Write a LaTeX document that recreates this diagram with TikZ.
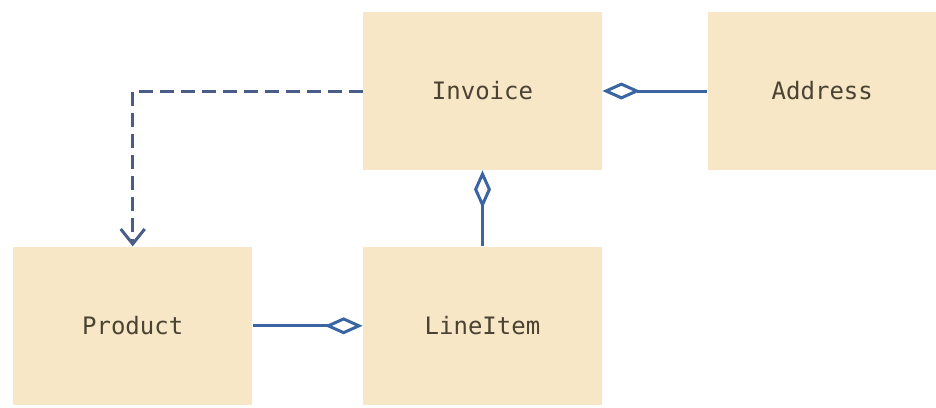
\documentclass[tikz,border=0pt]{standalone}
\usepackage{fontspec}
\setmonofont{DejaVu Sans Mono}
\usepackage{xcolor}
\definecolor{boxBack}  {HTML}{F8E7C6}
\definecolor{lineBlue} {HTML}{3A64A2}
\definecolor{dashBlue} {HTML}{4A5C88}
\definecolor{labelInk} {HTML}{4A4232}
\usetikzlibrary{arrows.meta, positioning, calc}
\tikzset{
    classbox/.style={rectangle, fill=boxBack, minimum width=119.5pt,
                     minimum height=79pt, inner sep=0pt,
                     font=\ttfamily\fontsize{12}{14}\selectfont, text=labelInk},
    aggedge/.style={{Diamond[open, length=19pt, width=8.5pt]}-, line width=1.5pt,
                    lineBlue},
    depedge/.style={-{Straight Barb[length=7.5pt, width=12pt]}, line width=1.5pt,
                    dashBlue, dash pattern=on 7pt off 3.5pt},
}

\begin{document}
\begin{tikzpicture}[node distance=38pt and 52.5pt]
    \useasboundingbox (-241.25pt,45.5pt) rectangle (226.75pt,-158pt);
    % top row
    \node[classbox] (invoice) {Invoice};
    \node[classbox, right=of invoice, minimum width=114.5pt] (address) {Address};
    % bottom row
    \node[classbox, below=of invoice] (lineitem) {LineItem};
    \node[classbox, left=55pt of lineitem] (product) {Product};
    \draw[depedge] (invoice.west) -| (product.north);
    \draw[aggedge] (invoice.east) -- (address.west);
    \draw[aggedge] (invoice.south) -- (lineitem.north);
    \draw[aggedge] (lineitem.west) -- (product.east);
\end{tikzpicture}
\end{document}
